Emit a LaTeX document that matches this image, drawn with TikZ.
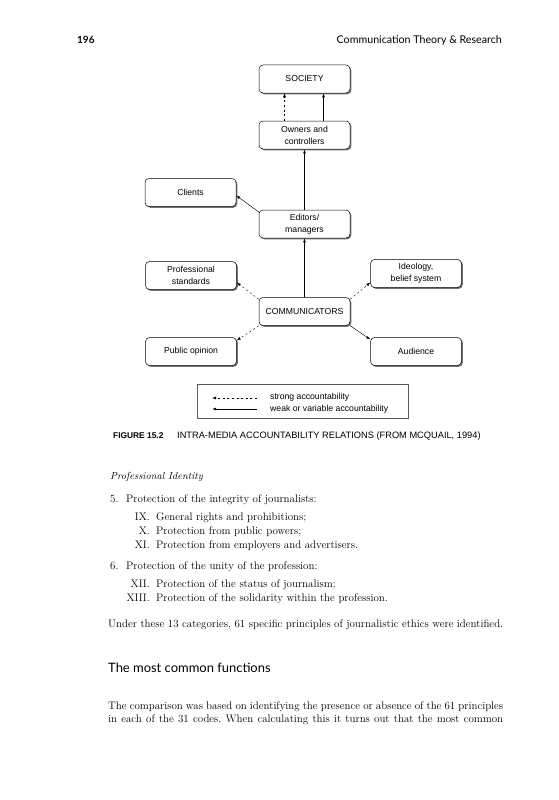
\documentclass[tikz,border=0pt]{standalone}
\usepackage{fontspec}
\newfontfamily\arial{Liberation Sans}
\newfontfamily\gill{Lato}
\usetikzlibrary{shadows,arrows.meta,calc}
\frenchspacing
\tikzset{
  box/.style={draw, line width=0.5bp, rounded corners=4bp, minimum width=91bp, minimum height=28bp,
    inner sep=0pt, align=center, fill=white,
    font=\arial\fontsize{8.7}{12}\selectfont,
    drop shadow={shadow xshift=1.3bp, shadow yshift=-1.3bp, fill=black!55, opacity=1}},
  tipa/.style={-{Latex[length=4bp,width=2.8bp]}},
  solidarrow/.style={tipa, line width=0.7bp},
  thinarrow/.style={tipa, line width=0.45bp},
  dasharrow/.style={tipa, line width=0.4bp, dash pattern=on 2bp off 2.6bp},
  body/.style={anchor=base west, inner sep=0pt, font=\fontsize{11}{13}\selectfont},
  bodyr/.style={anchor=base east, inner sep=0pt, font=\fontsize{11}{13}\selectfont},
  legtxt/.style={anchor=west, inner sep=0pt, font=\arial\fontsize{8.7}{11}\selectfont},
}
\begin{document}
\begin{tikzpicture}[x=1bp,y=-1bp]
\useasboundingbox[fill=white] (0,0) rectangle (559,800);

% header
\node[anchor=base west, inner sep=0pt, font=\gill\bfseries\fontsize{10}{12}\selectfont] (pg) at (77,44) {196};
\node[anchor=base east, inner sep=0pt, font=\gill\fontsize{10.7}{12}\selectfont] (hd) at (502,44) {Communication Theory \& Research};

% diagram boxes
\node[box] (soc) at (304.5,79) {SOCIETY};
\node[box] (own) at (304.5,135) {Owners and\\controllers};
\node[box] (cli) at (190.5,192.5) {Clients};
\node[box] (ed) at (304.5,224) {Editors/\\managers};
\node[box] (prof) at (191,275.5) {Professional\\standards};
\node[box] (ideo) at (416,273.5) {Ideology,\\belief system};
\node[box] (comm) at (304.5,311.5) {COMMUNICATORS};
\node[box] (pub) at (191,351.5) {Public opinion};
\node[box] (aud) at (416,351.5) {Audience};

% connectors
\draw[dasharrow] ($(own.north)+(-20,0)$) -- ($(soc.south)+(-20,0)$);
\draw[solidarrow] ($(own.north)+(19,0)$) -- ($(soc.south)+(19,0)$);
\draw[solidarrow] (ed.north) -- (own.south);
\draw[solidarrow] (comm.north) -- (ed.south);
\draw[thinarrow] ($(ed.north west)+(1,3)$) -- ($(cli.east)+(0,3)$);
\draw[dasharrow] ($(comm.north west)+(0,2)$) -- ($(prof.east)+(0,7)$);
\draw[dasharrow] ($(comm.north east)+(0,2)$) -- ($(ideo.west)+(0,9)$);
\draw[dasharrow] (comm.south west) -- ($(pub.east)+(0,-11)$);
\draw[thinarrow] (comm.south east) -- ($(aud.west)+(0,-12)$);

% legend
\node[draw=black!65, line width=0.5bp, minimum width=211bp, minimum height=34bp, inner sep=0pt] (leg) at (302.5,401) {};
\coordinate (l1s) at (257,398);
\coordinate (l1e) at (212,398);
\coordinate (l2s) at (257,409);
\coordinate (l2e) at (212,409);
\draw[dasharrow] (l1s) -- (l1e);
\draw[solidarrow] (l2s) -- (l2e);
\node[legtxt] (lt1) at (270,397.5) {strong accountability};
\node[legtxt] (lt2) at (270,409) {weak or variable accountability};

% caption
\node[anchor=base west, inner sep=0pt, font=\arial\bfseries\fontsize{8.4}{10}\selectfont] (figno) at (113,438) {FIGURE 15.2};
\node[anchor=base west, inner sep=0pt, font=\arial\fontsize{9.3}{10}\selectfont] (cap) at (177,438) {INTRA-MEDIA ACCOUNTABILITY RELATIONS (FROM MCQUAIL, 1994)};

% body text
\node[body, font=\itshape\fontsize{10.3}{12}\selectfont] (t0) at (110,479) {Professional Identity};
\node[body] (n5) at (110,502) {5.};
\node[body] (t5) at (126,502) {Protection of the integrity of journalists:};
\node[bodyr] (r9) at (150,520) {IX.};
\node[body] (t9) at (156,520) {General rights and prohibitions;};
\node[bodyr] (r10) at (150,534) {X.};
\node[body] (t10) at (156,534) {Protection from public powers;};
\node[bodyr] (r11) at (150,548) {XI.};
\node[body] (t11) at (156,548) {Protection from employers and advertisers.};
\node[body] (n6) at (110,569) {6.};
\node[body] (t6) at (126,569) {Protection of the unity of the profession:};
\node[bodyr] (r12) at (150,587) {XII.};
\node[body] (t12) at (156,587) {Protection of the status of journalism;};
\node[bodyr] (r13) at (150,601) {XIII.};
\node[body] (t13) at (156,601) {Protection of the solidarity within the profession.};
\node[body] (p1) at (108,627) {\hbox to 395bp{Under these 13 categories, 61 specific principles of journalistic ethics were identified.}};
\node[anchor=base west, inner sep=0pt, font=\gill\fontsize{13}{15}\selectfont] (h2) at (108,672) {The most common functions};
\node[body] (p2) at (108,709) {\hbox to 395bp{The comparison was based on identifying the presence or absence of the 61 principles}};
\node[body] (p3) at (108,722) {\hbox to 395bp{in each of the 31 codes. When calculating this it turns out that the most common}};
\end{tikzpicture}
\end{document}
